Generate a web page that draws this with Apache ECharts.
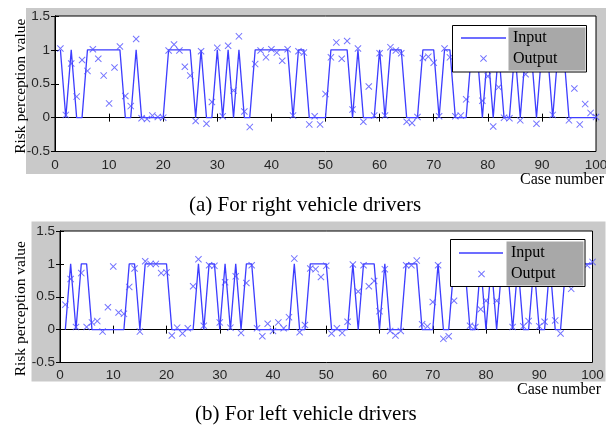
<!DOCTYPE html>
<html><head><meta charset="utf-8">
<script src="https://cdn.jsdelivr.net/npm/echarts@6/dist/echarts.min.js"></script>
<style>html,body{margin:0;padding:0;background:#fff}#c{width:606px;height:428px}</style>
</head><body><div id="c"></div>
<script>
// Case numbers (x axis), 1..100
const caseNumbers = Array.from({length: 100}, (_, i) => i + 1);
const xTicks = [0, 10, 20, 30, 40, 50, 60, 70, 80, 90, 100];
const yTicks = [-0.5, 0, 0.5, 1, 1.5];

// (a) right vehicle drivers
const rightInput = [
  1,0,1,0,0,1,1,1,1,1,
  1,1,0,0,1,0,0,0,0,0,
  1,1,1,1,1,0,1,0,0,1,
  0,1,0,1,0,0,1,1,1,1,
  1,1,1,0,1,1,0,0,0,0,
  1,1,1,1,0,1,0,0,0,1,
  0,1,1,1,0,0,0,1,1,1,
  0,1,1,0,0,0,1,1,0,1,
  0,1,0,0,1,0,1,1,0,1,
  1,0,1,1,0,0,0,0,0,0
];
const rightOutput = [
  1.02,0.04,0.80,0.31,0.85,0.69,1.01,0.87,0.62,0.21,
  0.74,1.05,0.32,0.17,1.16,-0.01,-0.02,0.03,0.01,0.00,
  0.99,1.08,0.99,0.75,0.62,-0.05,0.98,-0.09,0.23,1.03,
  0.02,1.06,0.40,1.20,0.09,-0.14,0.79,0.99,0.89,1.01,
  0.96,0.84,1.01,0.03,0.98,0.96,-0.10,0.02,-0.10,0.35,
  0.89,1.11,0.87,1.13,0.12,1.02,-0.06,0.46,0.03,0.95,
  0.03,1.04,0.99,0.95,-0.06,-0.08,0.01,0.88,0.90,0.81,
  0.02,1.02,0.89,0.02,0.03,0.27,0.97,1.00,0.25,0.61,
  -0.13,0.45,0.00,-0.01,0.98,-0.04,0.64,1.00,-0.09,0.98,
  1.00,0.04,0.97,1.00,-0.04,0.43,-0.10,0.20,0.07,0.01
];

// (b) left vehicle drivers
const leftInput = [
  0,1,0,1,1,0,0,0,0,0,
  0,0,1,1,0,1,1,1,1,1,
  0,0,0,0,0,1,0,1,1,0,
  1,0,1,0,1,1,0,0,0,0,
  0,0,0,1,0,0,1,1,1,1,
  0,0,0,0,1,0,1,1,1,0,
  1,0,0,0,1,1,1,0,0,0,
  1,0,0,1,1,1,0,0,1,0,
  1,0,1,1,0,1,0,0,1,0,
  0,1,0,0,1,1,1,1,1,1
];
const leftOutput = [
  0.38,0.77,0.04,0.86,0.04,0.11,0.13,-0.03,0.34,0.96,
  0.26,0.24,0.65,0.93,-0.03,1.04,1.00,1.00,0.86,0.87,
  -0.09,0.03,-0.06,0.02,0.66,1.07,0.06,0.98,0.97,0.11,
  0.72,0.03,0.81,-0.05,0.71,0.98,0.02,-0.10,0.09,-0.02,
  0.11,0.02,0.19,1.08,-0.04,0.07,0.93,0.92,0.80,0.97,
  -0.06,0.02,-0.05,0.12,0.99,0.58,0.98,0.66,0.74,0.28,
  0.92,-0.02,-0.09,-0.02,0.98,0.98,1.05,0.08,0.05,0.42,
  0.98,-0.14,-0.10,0.44,0.95,1.00,0.06,0.04,0.31,0.44,
  0.95,0.44,1.00,0.98,0.04,0.97,0.05,0.13,0.96,0.05,
  0.12,0.98,0.14,-0.06,0.93,0.62,0.85,0.95,0.98,1.03
];

const seriesNames = ['Input', 'Output'];
const captions = ['(a) For right vehicle drivers', '(b) For left vehicle drivers'];
const xName = 'Case number';
const yName = 'Risk perception value';

const BLUE_LINE = '#3d3dff';
const BLUE_MARK = '#5050ff';
const X_PATH = 'path://M0,1L1,0L5,4L9,0L10,1L6,5L10,9L9,10L5,6L1,10L0,9L4,5Z';
const serif = 'Liberation Serif';
const sans = 'Liberation Sans';

const pairs = (ys) => caseNumbers.map((x, i) => [x, ys[i]]);

function xAx(grid, pos) {
  const main = pos === 'bottom';
  return {
    type: 'value', gridIndex: grid, position: pos,
    min: xTicks[0], max: xTicks[xTicks.length - 1], interval: xTicks[1] - xTicks[0],
    axisLine: {show: true, lineStyle: {color: '#000', width: 1}},
    axisTick: {show: true, inside: true, length: 4, lineStyle: {color: '#000'}},
    axisLabel: {show: main, fontFamily: sans, fontSize: 13.5, color: '#262626', margin: grid === 0 ? 7 : 6},
    splitLine: {show: false}
  };
}
function yAx(grid, pos, gap, pad) {
  const main = pos === 'left';
  return {
    type: 'value', gridIndex: grid, position: pos,
    min: yTicks[0], max: yTicks[yTicks.length - 1], interval: yTicks[1] - yTicks[0],
    name: main ? yName : '', nameLocation: 'middle', nameGap: gap || 0, nameMoveOverlap: false,
    nameTextStyle: {fontFamily: serif, fontSize: 15.5, color: '#000', padding: [0, pad || 0, 0, 0]},
    axisLine: {show: true, lineStyle: {color: '#000', width: 1}},
    axisTick: {show: true, inside: true, length: 4, lineStyle: {color: '#000'}},
    axisLabel: {show: main, fontFamily: sans, fontSize: 13.5, color: '#262626', margin: 5},
    splitLine: {show: false}
  };
}

function legendItem(name, icon, left, top, w, h, pad) {
  return {
    data: [{name: name, icon: icon}], left: left, top: top, orient: 'vertical',
    itemWidth: w, itemHeight: h, padding: 0, selectedMode: false, z: 6,
    itemStyle: {borderWidth: 0},
    textStyle: {fontFamily: serif, fontSize: 16, color: '#000', padding: [0, 0, 0, pad]}
  };
}

const chart = echarts.init(document.getElementById('c'), null, {renderer: 'canvas'});
chart.setOption({
  animation: false,
  backgroundColor: '#fff',
  title: [
    {text: captions[0], left: 189, top: 195, padding: 0, textStyle: {fontFamily: serif, fontSize: 21, fontWeight: 'normal', color: '#000'}},
    {text: captions[1], left: 195, top: 404, padding: 0, textStyle: {fontFamily: serif, fontSize: 21, fontWeight: 'normal', color: '#000'}}
  ],
  grid: [
    {left: 55, top: 16, width: 541, height: 135.5, show: true, backgroundColor: '#fff', borderColor: '#000', borderWidth: 1, containLabel: false, outerBoundsMode: 'none'},
    {left: 60, top: 231, width: 532.5, height: 131.5, show: true, backgroundColor: '#fff', borderColor: '#000', borderWidth: 1, containLabel: false, outerBoundsMode: 'none'}
  ],
  xAxis: [xAx(0, 'bottom'), xAx(0, 'top'), xAx(1, 'bottom'), xAx(1, 'top')],
  yAxis: [yAx(0, 'left', 26, 5), yAx(0, 'right'), yAx(1, 'left', 31, 24), yAx(1, 'right')],
  legend: [
    legendItem(seriesNames[0], 'rect', 461, 30, 45, 1.4, 2),
    legendItem(seriesNames[1], X_PATH, 480, 50.5, 7, 7, 21),
    legendItem(seriesNames[0], 'rect', 459, 245, 44, 1.4, 3),
    legendItem(seriesNames[1], X_PATH, 478, 266, 7, 7, 21)
  ],
  graphic: [
    {type: 'rect', z: -10, shape: {x: 26, y: 8, width: 580, height: 166}, style: {fill: '#c9c9c9'}, silent: true},
    {type: 'rect', z: -10, shape: {x: 31.5, y: 221.5, width: 574, height: 160}, style: {fill: '#c9c9c9'}, silent: true},
    {type: 'rect', z: 3, shape: {x: 452.5, y: 25.5, width: 134, height: 46.5}, style: {fill: '#fff', stroke: '#000', lineWidth: 1}, silent: true},
    {type: 'rect', z: 3, shape: {x: 508.5, y: 27.5, width: 77, height: 43}, style: {fill: '#a8a8a8'}, silent: true},
    {type: 'rect', z: 3, shape: {x: 450.5, y: 239.5, width: 134.5, height: 47}, style: {fill: '#fff', stroke: '#000', lineWidth: 1}, silent: true},
    {type: 'rect', z: 3, shape: {x: 506.5, y: 241.5, width: 77, height: 44}, style: {fill: '#a8a8a8'}, silent: true},
    {type: 'text', z: 5, left: 520, top: 172, style: {text: xName, font: '16px "Liberation Serif"', fill: '#000'}, silent: true},
    {type: 'text', z: 5, left: 517, top: 382, style: {text: xName, font: '16px "Liberation Serif"', fill: '#000'}, silent: true}
  ],
  series: [
    {name: seriesNames[0], type: 'line', xAxisIndex: 0, yAxisIndex: 0, data: pairs(rightInput), symbol: 'none', lineStyle: {color: BLUE_LINE, width: 1.3}, itemStyle: {color: BLUE_LINE}, z: 2},
    {name: seriesNames[1], type: 'scatter', xAxisIndex: 0, yAxisIndex: 0, data: pairs(rightOutput), symbol: X_PATH, symbolSize: 7, itemStyle: {color: BLUE_MARK}, z: 2},
    {name: seriesNames[0], type: 'line', xAxisIndex: 2, yAxisIndex: 2, data: pairs(leftInput), symbol: 'none', lineStyle: {color: BLUE_LINE, width: 1.3}, itemStyle: {color: BLUE_LINE}, z: 2},
    {name: seriesNames[1], type: 'scatter', xAxisIndex: 2, yAxisIndex: 2, data: pairs(leftOutput), symbol: X_PATH, symbolSize: 7, itemStyle: {color: BLUE_MARK}, z: 2}
  ]
});
</script></body></html>
